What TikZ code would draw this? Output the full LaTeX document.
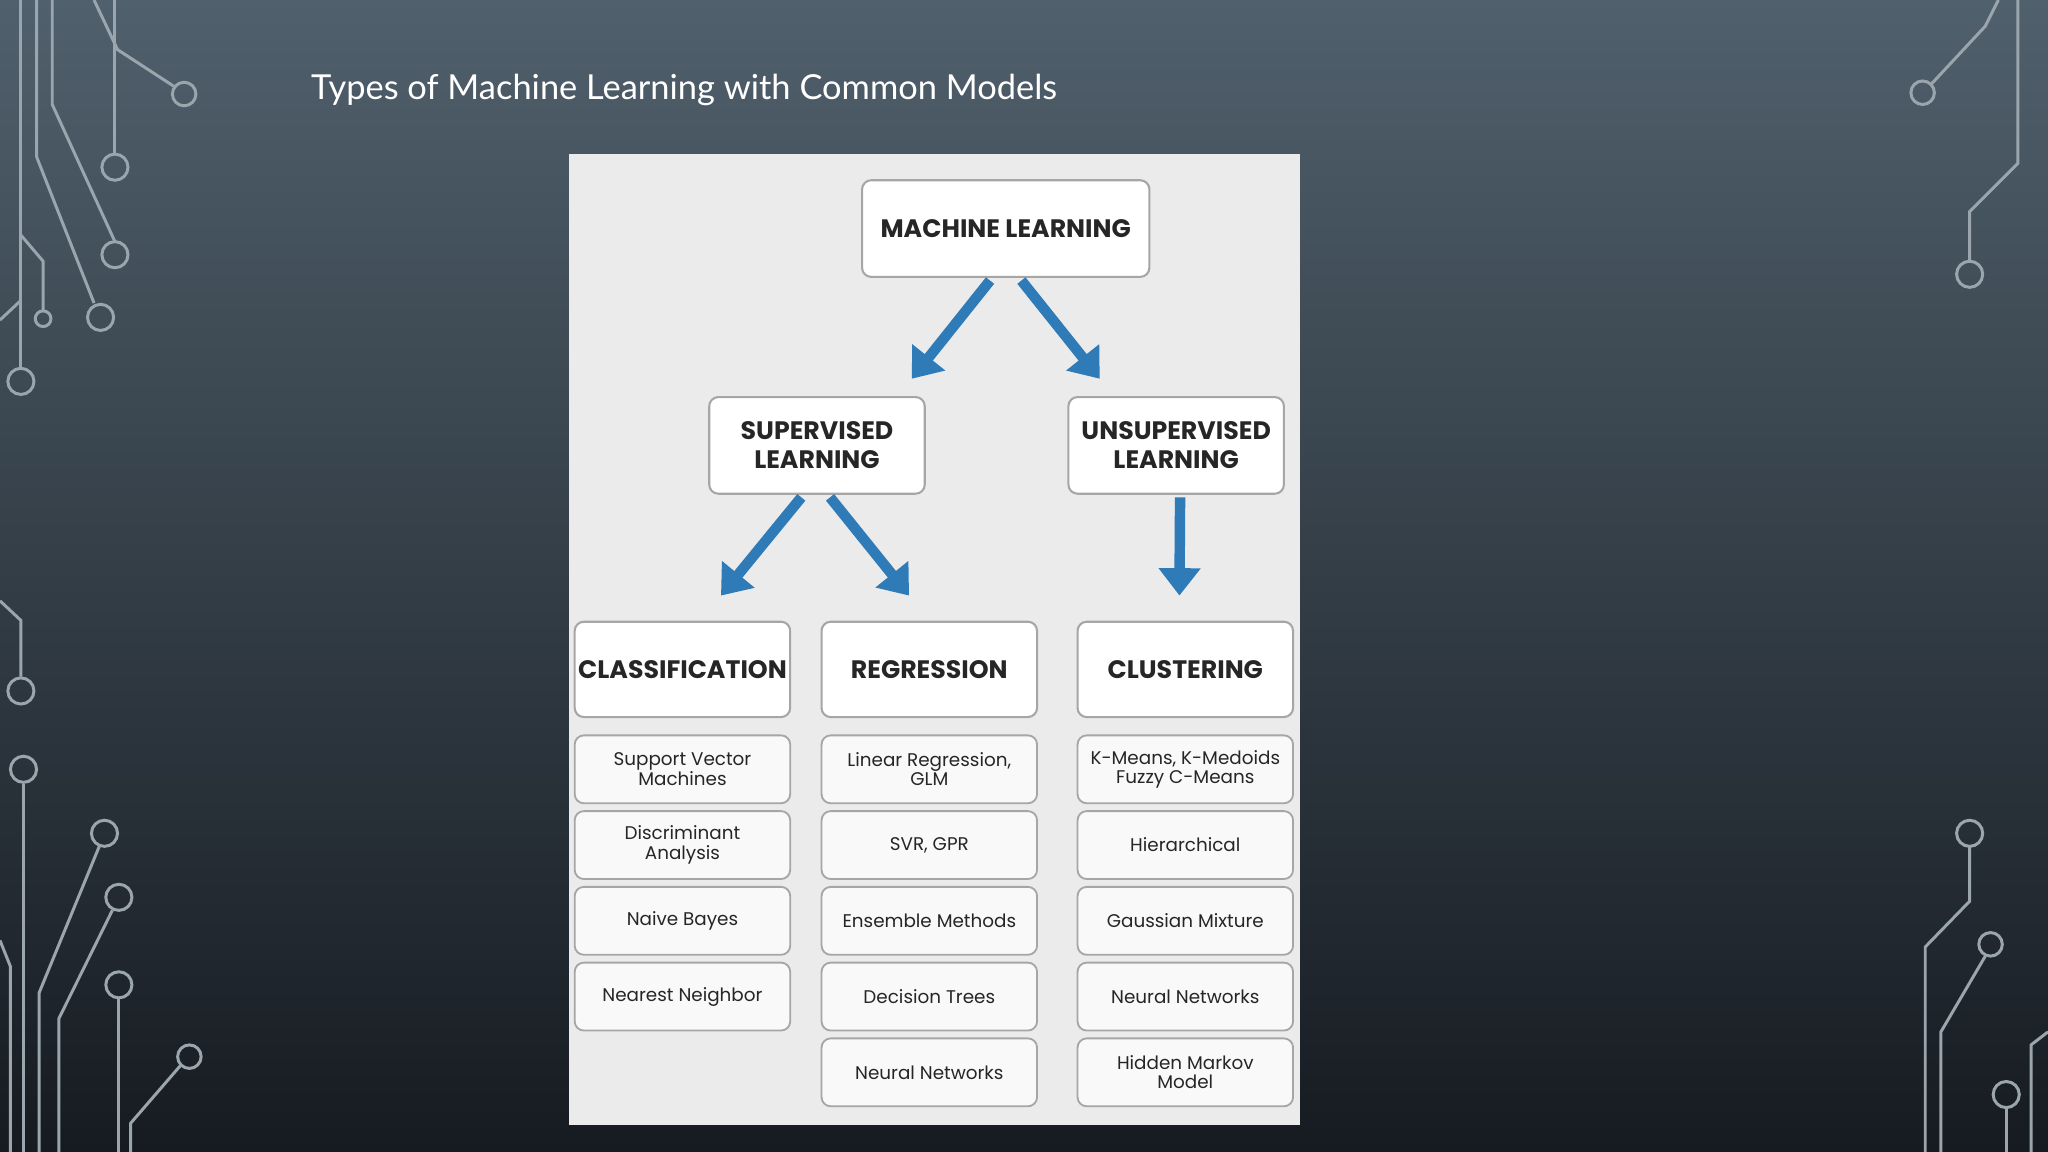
\documentclass[tikz,border=0pt]{standalone}
\usepackage{fontspec}
\setmainfont{Poppins}
\newfontfamily\titlefont{Lato}
\usetikzlibrary{arrows.meta}
\definecolor{arrowblue}{HTML}{2E7BB8}
\definecolor{circ}{HTML}{9AA5AD}
\begin{document}
\begin{tikzpicture}[x=0.02cm,y=-0.02cm,
 big/.style={draw=gray!70,fill=white,rounded corners=4pt,line width=0.9pt,align=center,font=\bfseries\fontsize{11}{12.5}\selectfont,text=black!85,inner sep=0pt},
 small/.style={draw=gray!70,fill=white!95!gray,rounded corners=4pt,line width=0.8pt,align=center,font=\fontsize{8}{8.5}\selectfont,text=black!85,inner sep=0pt,minimum width=165*0.02cm,minimum height=52*0.02cm},
 arr/.style={arrowblue,line width=0.16cm,-{Triangle[length=0.42cm,width=0.62cm]}},
 ck/.style={circ,line width=1.3pt},
 dot/.style={circ,line width=1.3pt,fill=none}]
\useasboundingbox (0,0) rectangle (1568,882);
\shade[top color={rgb,255:red,80;green,96;blue,108},bottom color={rgb,255:red,22;green,27;blue,33}] (0,0) rectangle (1568,882);
% circuit decorations left
\draw[ck] (16,0)--(16,282); \draw[dot] (16,292) circle (10);
\draw[ck] (40,0)--(40,80)--(88,185); \draw[dot] (88,195) circle (10);
\draw[ck] (88,0)--(88,118); \draw[dot] (88,128) circle (10);
\draw[ck] (72,0)--(90,38)--(133,66); \draw[dot] (141,72) circle (9);
\draw[ck] (28,0)--(28,120)--(72,232); \draw[dot] (77,243) circle (10);
\draw[ck] (16,180)--(33,200)--(33,238); \draw[dot] (33,244) circle (6);
\draw[ck] (0,245)--(16,230);
\draw[ck] (0,460)--(16,475)--(16,518); \draw[dot] (16,529) circle (10);
\draw[ck] (18,600)--(18,882); \draw[dot] (18,589) circle (10);
\draw[ck] (0,720)--(8,740)--(8,882);
\draw[ck] (30,882)--(30,760)--(76,648); \draw[dot] (80,638) circle (10);
\draw[ck] (45,882)--(45,780)--(86,697); \draw[dot] (91,687) circle (10);
\draw[ck] (91,764)--(91,882); \draw[dot] (91,754) circle (10);
\draw[ck] (100,882)--(100,860)--(138,816); \draw[dot] (145,809) circle (9);
% right
\draw[ck] (1530,0)--(1520,20)--(1479,64); \draw[dot] (1472,71) circle (9);
\draw[ck] (1545,0)--(1545,125)--(1508,162)--(1508,200); \draw[dot] (1508,210) circle (10);
\draw[ck] (1474,882)--(1474,725)--(1508,690)--(1508,648); \draw[dot] (1508,638) circle (10);
\draw[ck] (1486,882)--(1486,790)--(1520,732); \draw[dot] (1524,723) circle (9);
\draw[ck] (1536,882)--(1536,848); \draw[dot] (1536,838) circle (10);
\draw[ck] (1555,882)--(1555,800)--(1568,790);
% title
\node[anchor=west,text=white,font=\titlefont\fontsize{15}{15}\selectfont] (title) at (232,69) {Types of Machine Learning with Common Models};
% panel
\fill[black!8] (436,118) rectangle (995,861);
\node[big,minimum width=220*0.02cm,minimum height=74*0.02cm] (ml) at (770,175) {MACHINE LEARNING};
\node[big,minimum width=165*0.02cm,minimum height=74*0.02cm] (sup) at (625.5,341) {SUPERVISED\\LEARNING};
\node[big,minimum width=165*0.02cm,minimum height=74*0.02cm] (uns) at (900.5,341) {UNSUPERVISED\\LEARNING};
\node[big,minimum width=165*0.02cm,minimum height=73*0.02cm] (cla) at (522.5,512.5) {CLASSIFICATION};
\node[big,minimum width=165*0.02cm,minimum height=73*0.02cm] (reg) at (711.5,512.5) {REGRESSION};
\node[big,minimum width=165*0.02cm,minimum height=73*0.02cm] (clu) at (907.5,512.5) {CLUSTERING};
\coordinate (a1) at (698,290); \coordinate (a2) at (842,290);
\coordinate (b1) at (552,456); \coordinate (b2) at (696,456); \coordinate (b3) at (903,456);
\draw[arr] (ml.south)++(-12,2) -- (a1);
\draw[arr] (ml.south)++(12,2) -- (a2);
\draw[arr] (sup.south)++(-12,2) -- (b1);
\draw[arr] (sup.south)++(10,2) -- (b2);
\draw[arr] (uns.south)++(3,2) -- (b3);
% small boxes
\node[small] (c1) at (522.5,589) {Support Vector\\Machines};
\node[small] (c2) at (522.5,647) {Discriminant\\Analysis};
\node[small] (c3) at (522.5,705) {Naive Bayes};
\node[small] (c4) at (522.5,763) {Nearest Neighbor};
\node[small] (r1) at (711.5,589) {Linear Regression,\\GLM};
\node[small] (r2) at (711.5,647) {SVR, GPR};
\node[small] (r3) at (711.5,705) {Ensemble Methods};
\node[small] (r4) at (711.5,763) {Decision Trees};
\node[small] (r5) at (711.5,821) {Neural Networks};
\node[small] (u1) at (907.5,589) {K-Means, K-Medoids\\Fuzzy C-Means};
\node[small] (u2) at (907.5,647) {Hierarchical};
\node[small] (u3) at (907.5,705) {Gaussian Mixture};
\node[small] (u4) at (907.5,763) {Neural Networks};
\node[small] (u5) at (907.5,821) {Hidden Markov\\Model};
\end{tikzpicture}
\end{document}
